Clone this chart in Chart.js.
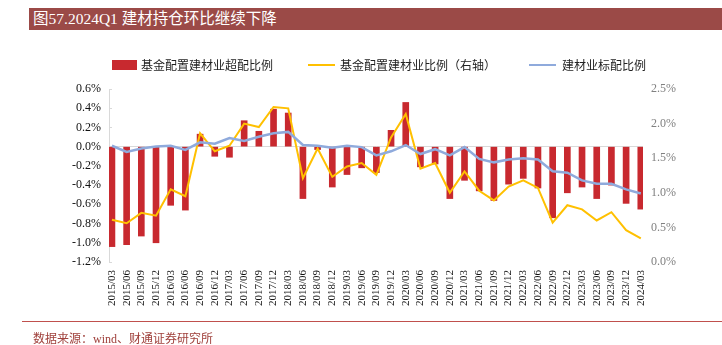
<!DOCTYPE html>
<html>
<head>
<meta charset="utf-8">
<script src="https://cdn.jsdelivr.net/npm/chart.js@4/dist/chart.umd.min.js"></script>
<style>
  html, body { margin: 0; padding: 0; background: #fff; }
  #wrap { position: relative; width: 722px; height: 345px; overflow: hidden; }
  #c { position: absolute; left: 0; top: 0; }
  #title {
    position: absolute; left: 29px; top: 8px; width: 693px; height: 22px;
    background: #9B4A47; color: #fff; box-sizing: border-box; padding-left: 4px;
    font: 15.5px "Liberation Serif", "Noto Sans CJK SC", serif; line-height: 22px; white-space: nowrap;
  }
  #legend { position: absolute; left: 0; top: 57px; width: 722px; height: 16px;
    font: 12px "Noto Sans CJK SC", sans-serif; color: #222; }
  .li { position: absolute; top: 0; height: 16px; line-height: 16px; white-space: nowrap; }
  .mk { position: absolute; }
  .tx { position: absolute; top: 0; }
  #rule { position: absolute; left: 22px; top: 321px; width: 700px; height: 1px; background: #C0504D; }
  #source { position: absolute; left: 33px; top: 329px; color: #A0413C;
    font: 12px "Liberation Serif", "Noto Sans CJK SC", serif; white-space: nowrap; }
</style>
</head>
<body>
<div id="wrap">
  <canvas id="c" width="722" height="345"></canvas>
  <div id="title">图57.2024Q1 建材持仓环比继续下降</div>
  <div id="legend"></div>
  <div id="rule"></div>
  <div id="source">数据来源：wind、财通证券研究所</div>
</div>
<script>
// Quarter-end reporting dates
const categories = [
  '2015/03','2015/06','2015/09','2015/12','2016/03','2016/06','2016/09','2016/12',
  '2017/03','2017/06','2017/09','2017/12','2018/03','2018/06','2018/09','2018/12',
  '2019/03','2019/06','2019/09','2019/12','2020/03','2020/06','2020/09','2020/12',
  '2021/03','2021/06','2021/09','2021/12','2022/03','2022/06','2022/09','2022/12',
  '2023/03','2023/06','2023/09','2023/12','2024/03'
];

// 基金配置建材业超配比例 (%), left axis
const overweight = [
  -1.04, -1.02, -0.93, -1.00, -0.61, -0.66, 0.13, -0.10,
  -0.11, 0.27, 0.16, 0.39, 0.35, -0.54, -0.03, -0.42,
  -0.29, -0.22, -0.27, 0.17, 0.46, -0.21, -0.18, -0.54,
  -0.35, -0.46, -0.56, -0.39, -0.33, -0.43, -0.74, -0.48,
  -0.42, -0.54, -0.40, -0.59, -0.65
];

// 基金配置建材业比例 (%), right axis
const fundWeight = [
  0.61, 0.56, 0.71, 0.67, 1.05, 0.95, 1.86, 1.60,
  1.68, 2.00, 1.95, 2.24, 2.22, 1.21, 1.64, 1.23,
  1.38, 1.43, 1.26, 1.80, 2.14, 1.35, 1.43, 1.00,
  1.31, 1.03, 0.89, 1.09, 1.18, 1.07, 0.57, 0.82,
  0.76, 0.60, 0.72, 0.46, 0.34
];

// 建材业标配比例 (%), right axis
const benchmarkWeight = [
  1.68, 1.59, 1.64, 1.67, 1.68, 1.62, 1.73, 1.71,
  1.79, 1.75, 1.81, 1.86, 1.88, 1.69, 1.68, 1.65,
  1.68, 1.66, 1.54, 1.60, 1.69, 1.56, 1.63, 1.54,
  1.66, 1.49, 1.44, 1.48, 1.50, 1.48, 1.31, 1.29,
  1.18, 1.13, 1.13, 1.05, 0.99
];

// Axis ranges
const leftAxis = { min: -1.2, max: 0.6, step: 0.2 };
const rightAxis = { min: 0, max: 2.5, step: 0.5 };

const toPoints = arr => arr.map((v, i) => ({ x: i, y: v }));
const pct = v => (Math.abs(v) < 1e-9 ? 0 : v).toFixed(1) + '%';
const serif = '"Liberation Serif", "Times New Roman", serif';

const datasets = [
  {
    type: 'bar', label: '基金配置建材业超配比例', data: toPoints(overweight),
    backgroundColor: '#C8292F', borderWidth: 0, barThickness: 6,
    yAxisID: 'y', order: 3
  },
  {
    type: 'line', label: '基金配置建材业比例（右轴）', data: toPoints(fundWeight),
    borderColor: '#FFC000', backgroundColor: '#FFC000', borderWidth: 2,
    pointRadius: 0, tension: 0, yAxisID: 'y1', order: 2
  },
  {
    type: 'line', label: '建材业标配比例', data: toPoints(benchmarkWeight),
    borderColor: '#8FAADC', backgroundColor: '#8FAADC', borderWidth: 2.5,
    pointRadius: 0, tension: 0, yAxisID: 'y1', order: 1
  }
];

const chart = new Chart(document.getElementById('c'), {
  data: { datasets },
  options: {
    responsive: false,
    animation: false,
    layout: { padding: { top: 89, left: 0, right: 0, bottom: 0 } },
    plugins: { legend: { display: false }, tooltip: { enabled: false } },
    scales: {
      x: {
        type: 'linear', min: -0.2, max: 36.15, offset: false,
        afterBuildTicks: s => { s.ticks = categories.map((_, i) => ({ value: i })); },
        afterFit: s => { s.height = 83; },
        grid: { display: false, drawTicks: false },
        border: { display: false },
        ticks: {
          autoSkip: false, minRotation: 90, maxRotation: 90, padding: 8,
          color: '#111', font: { family: serif, size: 11 },
          callback: v => categories[v] ?? ''
        }
      },
      y: {
        position: 'left', min: leftAxis.min, max: leftAxis.max,
        afterFit: s => { s.width = 109; },
        border: { display: true, color: '#D9D9D9', width: 1 },
        grid: {
          drawTicks: true, tickLength: -3, tickColor: '#D9D9D9',
          color: c => (c.tick && Math.abs(c.tick.value) < 1e-9) ? '#D9D9D9' : 'rgba(0,0,0,0)',
          lineWidth: 1
        },
        ticks: {
          stepSize: leftAxis.step, padding: 11, color: '#111',
          font: { family: serif, size: 12 }, callback: v => pct(v)
        }
      },
      y1: {
        position: 'right', min: rightAxis.min, max: rightAxis.max,
        afterFit: s => { s.width = 79; },
        border: { display: false },
        grid: { display: false, drawTicks: false },
        ticks: {
          stepSize: rightAxis.step, padding: 8, color: '#808080',
          font: { family: serif, size: 12 }, callback: v => pct(v)
        }
      }
    }
  }
});

// Legend row built from the chart's own datasets
const legendSlots = [
  { left: 112, width: 25, textLeft: 141 },
  { left: 308, width: 27, textLeft: 340 },
  { left: 529, width: 27, textLeft: 562 }
];
const legendEl = document.getElementById('legend');
chart.data.datasets.forEach((ds, i) => {
  const slot = legendSlots[i];
  const item = document.createElement('div');
  item.className = 'li';
  item.style.left = '0px';
  const mk = document.createElement('div');
  mk.className = 'mk';
  if (ds.type === 'bar') {
    Object.assign(mk.style, { left: slot.left + 'px', top: '3px', width: slot.width + 'px', height: '10px', background: ds.backgroundColor });
  } else {
    Object.assign(mk.style, { left: slot.left + 'px', top: '7px', width: slot.width + 'px', height: '2px', background: ds.borderColor });
  }
  const tx = document.createElement('div');
  tx.className = 'tx';
  tx.style.left = slot.textLeft + 'px';
  tx.textContent = ds.label;
  item.appendChild(mk);
  item.appendChild(tx);
  legendEl.appendChild(item);
});
</script>
</body>
</html>
